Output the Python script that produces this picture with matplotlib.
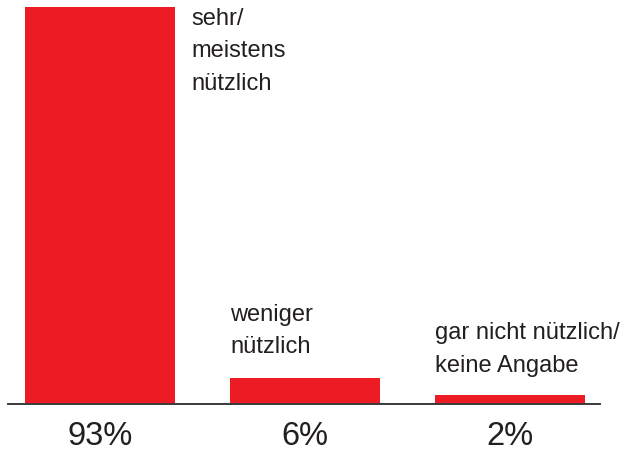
import matplotlib
matplotlib.use("Agg")
import matplotlib.pyplot as plt

categories = ["sehr/\nmeistens\nnützlich", "weniger\nnützlich", "gar nicht nützlich/\nkeine Angabe"]
values = [93, 6, 2]
pct_labels = ["93%", "6%", "2%"]

RED = "#ED1C24"
TXT = "#231F20"

plt.rcParams['font.family'] = ['Liberation Sans', 'DejaVu Sans']

fig = plt.figure(figsize=(6.29, 4.49), dpi=100)
ax = fig.add_axes([8/629, 45/449, 592/629, 397/449])

x = [0, 1, 2]
w = 150/205
ax.bar(x, values, width=w, color=RED, zorder=2)
ax.set_xlim(-92/205, 500/205)
ax.set_ylim(0, 93)

for s in ['top', 'right', 'left']:
    ax.spines[s].set_visible(False)
ax.spines['bottom'].set_color('#3a3a3a')
ax.spines['bottom'].set_linewidth(1.4)
ax.set_xticks([])
ax.set_yticks([])

# category labels
label_x = [w/2 + 16/205, 1 - w/2, 2 - w/2]
label_top = [92.8, 23.5, 19.1]
for lx, ly, t in zip(label_x, label_top, categories):
    ax.text(lx, ly, t, ha='left', va='top', fontsize=17, color=TXT, linespacing=1.62)

for xi, p in zip(x, pct_labels):
    ax.annotate(p, xy=(xi, 0), xytext=(0, -12.5), textcoords='offset points',
                ha='center', va='top', fontsize=23.5, color=TXT, annotation_clip=False)

fig.savefig("out.png", dpi=100)
